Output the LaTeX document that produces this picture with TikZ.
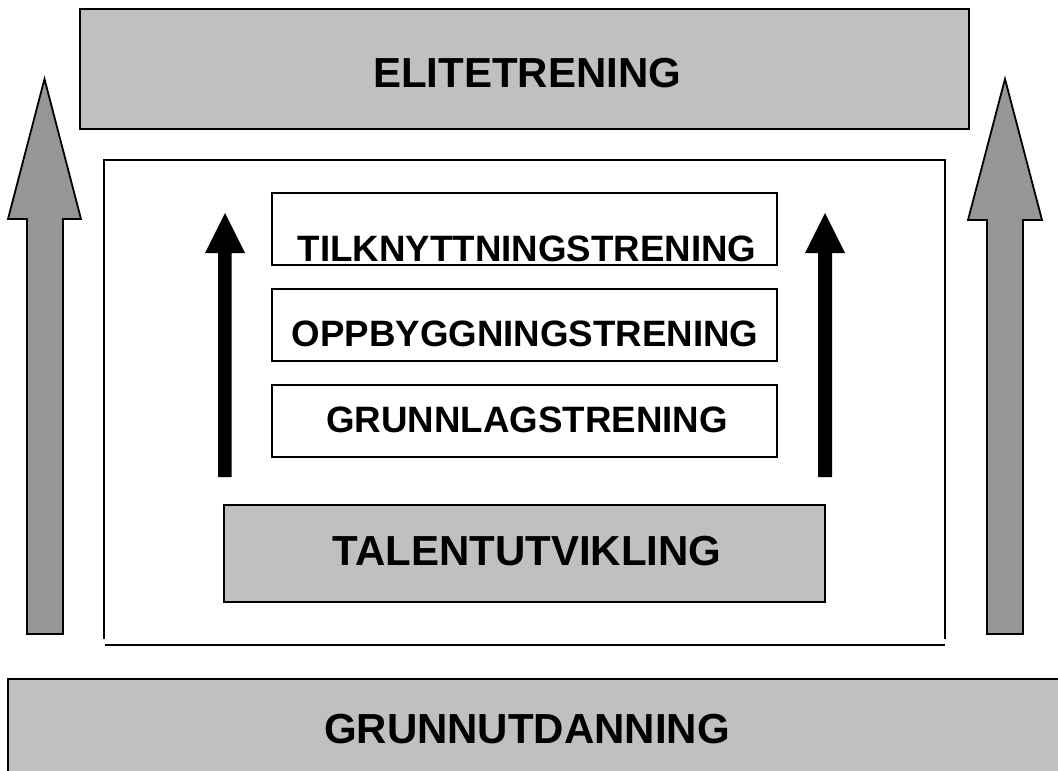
\documentclass[tikz,border=0pt]{standalone}
\usepackage{fontspec}
\setmainfont{Liberation Sans}
\definecolor{boxgray}{RGB}{192,192,192}
\definecolor{arrowgray}{RGB}{150,150,150}
\tikzset{
  px/.style={x=1pt,y=-1pt},
  graybox/.style={draw=black,line width=1.8pt,fill=boxgray},
  whitebox/.style={draw=black,line width=1.8pt,fill=white},
  bigarrow/.style={draw=black,line width=1.8pt,fill=arrowgray,line join=miter},
  blackarrow/.style={fill=black,draw=none},
  bigtext/.style={inner sep=0pt,font=\fontsize{42}{46}\selectfont\bfseries},
  smalltext/.style={inner sep=0pt,font=\fontsize{36.7}{40}\selectfont\bfseries},
}
\begin{document}
\begin{tikzpicture}[px]
\useasboundingbox (0,0) rectangle (1058,771);
% top box
\draw[graybox] (80,9) rectangle (969,129);
\node[bigtext] (elite) at (527,73) {ELITETRENING};
% bottom box
\draw[graybox] (8,679) rectangle (1075,800);
\node[bigtext] (grunn) at (527,729) {GRUNNUTDANNING};
% big side arrows
\draw[bigarrow] (27,634) -- (27,219) -- (8,219) -- (44.5,79) -- (81,219) -- (63,219) -- (63,634) -- cycle;
\draw[bigarrow] (987,634) -- (987,220) -- (968,220) -- (1005,79) -- (1042,220) -- (1023,220) -- (1023,634) -- cycle;
% inner frame
\draw[line width=1.8pt] (104,639) -- (104,160) -- (945,160) -- (945,639);
\draw[line width=1.8pt] (105,645) -- (945,645);
% small boxes
\draw[whitebox] (272,193) rectangle (777,265);
\node[smalltext] (tilk) at (527,249) {TILKNYTTNINGSTRENING};
\draw[whitebox] (272,289) rectangle (777,361);
\node[smalltext] (oppb) at (525,334) {OPPBYGGNINGSTRENING};
\draw[whitebox] (272,385) rectangle (777,457);
\node[smalltext] (grunnlag) at (527,420) {GRUNNLAGSTRENING};
% talent box
\draw[graybox] (224,505) rectangle (825,602);
\node[bigtext] (talent) at (527,551) {TALENTUTVIKLING};
% black arrows
\fill[blackarrow] (218,477) -- (218,253) -- (205,253) -- (225,213) -- (245,253) -- (231.5,253) -- (231.5,477) -- cycle;
\fill[blackarrow] (818,477) -- (818,253) -- (805,253) -- (825,213) -- (845,253) -- (832,253) -- (832,477) -- cycle;
\end{tikzpicture}
\end{document}
